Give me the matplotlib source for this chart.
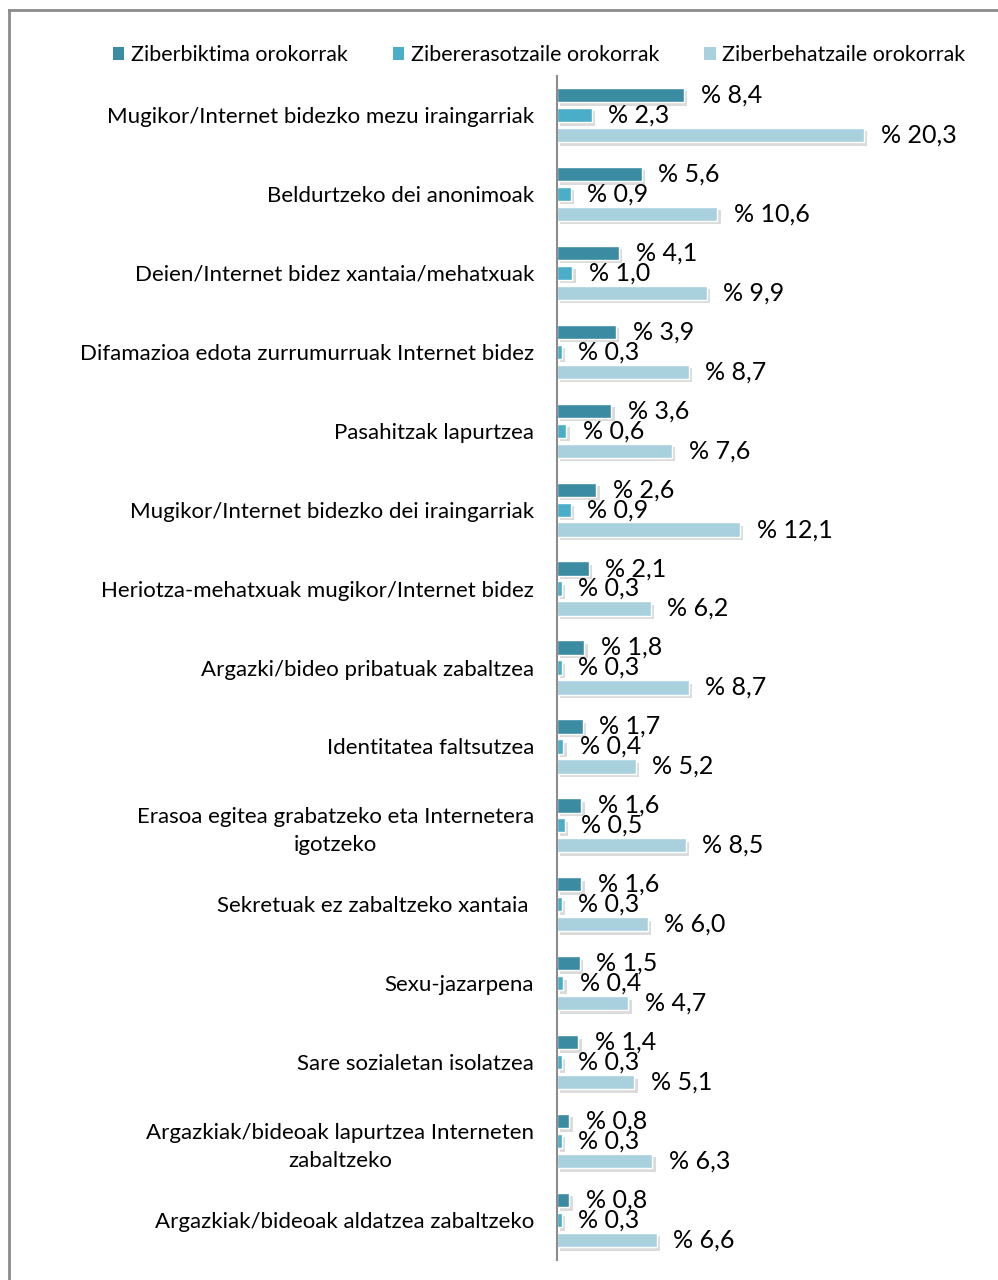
import matplotlib
matplotlib.use("Agg")
import matplotlib.pyplot as plt
import matplotlib.patheffects as pe
from matplotlib.lines import Line2D
from matplotlib.patches import Patch
import numpy as np

plt.rcParams['font.family'] = ['Lato', 'DejaVu Sans']

categories = [
    "Mugikor/Internet bidezko mezu iraingarriak",
    "Beldurtzeko dei anonimoak",
    "Deien/Internet bidez xantaia/mehatxuak",
    "Difamazioa edota zurrumurruak Internet bidez",
    "Pasahitzak lapurtzea",
    "Mugikor/Internet bidezko dei iraingarriak",
    "Heriotza-mehatxuak mugikor/Internet bidez",
    "Argazki/bideo pribatuak zabaltzea",
    "Identitatea faltsutzea",
    "Erasoa egitea grabatzeko eta Internetera\nigotzeko",
    "Sekretuak ez zabaltzeko xantaia ",
    "Sexu-jazarpena",
    "Sare sozialetan isolatzea",
    "Argazkiak/bideoak lapurtzea Interneten\nzabaltzeko",
    "Argazkiak/bideoak aldatzea zabaltzeko",
]
biktima = [8.4, 5.6, 4.1, 3.9, 3.6, 2.6, 2.1, 1.8, 1.7, 1.6, 1.6, 1.5, 1.4, 0.8, 0.8]
erasotzaile = [2.3, 0.9, 1.0, 0.3, 0.6, 0.9, 0.3, 0.3, 0.4, 0.5, 0.3, 0.4, 0.3, 0.3, 0.3]
behatzaile = [20.3, 10.6, 9.9, 8.7, 7.6, 12.1, 6.2, 8.7, 5.2, 8.5, 6.0, 4.7, 5.1, 6.3, 6.6]

series = [
    ("Ziberbiktima orokorrak", biktima, '#3B8BA3'),
    ("Zibererasotzaile orokorrak", erasotzaile, '#4BAEC8'),
    ("Ziberbehatzaile orokorrak", behatzaile, '#A8D0DD'),
]

W, H = 998, 1280
fig = plt.figure(figsize=(W / 100, H / 100), dpi=100)
ax = fig.add_axes([557 / W, 20.5 / H, (W - 557) / W, (1259.5 - 75.5) / H])

y = np.arange(len(categories))
offsets = [-0.253, 0.0, 0.253]
shadow = [pe.withSimplePatchShadow(offset=(2.5, -2.5), shadow_rgbFace='#9A9A9A', alpha=0.35)]

for (name, vals, col), off in zip(series, offsets):
    bars = ax.barh(y + off, vals, height=0.18, color=col, edgecolor='white',
                   linewidth=1)
    for b in bars:
        b.set_path_effects(shadow)
    for yi, v in zip(y + off, vals):
        ax.text(v + 1.1, yi, "% " + f"{v:.1f}".replace('.', ','),
                va='center', ha='left', fontsize=18, color='black')

ax.set_xlim(0, (W - 557) / 15.12)
ax.set_ylim(len(categories) - 0.5, -0.5)
ax.set_yticks(y)
ax.set_yticklabels(categories, fontsize=16, ha='right', multialignment='center',
                   linespacing=1.5)
ax.tick_params(axis='y', length=0, pad=16.5)
ax.set_xticks([])
for s in ['top', 'right', 'bottom']:
    ax.spines[s].set_visible(False)
ax.spines['left'].set_color('#8C8C8C')
ax.spines['left'].set_linewidth(1.5)
ax.patch.set_alpha(0)

handles = [Patch(facecolor=col, edgecolor='none', label=name) for name, _, col in series]
fig.legend(handles=handles, loc='center', bbox_to_anchor=(539 / W, 1 - 55 / H), ncol=3,
           frameon=False, fontsize=15.4, handlelength=0.55, handleheight=0.55,
           handletextpad=0.3, columnspacing=2.1)

# outer border
fig.add_artist(Line2D([8.5 / W, 8.5 / W], [0, 1 - 9.5 / H], color='#8C8C8C', lw=2))
fig.add_artist(Line2D([8.5 / W, 1], [1 - 9.5 / H, 1 - 9.5 / H], color='#8C8C8C', lw=2))

fig.savefig("out.png", dpi=100)
